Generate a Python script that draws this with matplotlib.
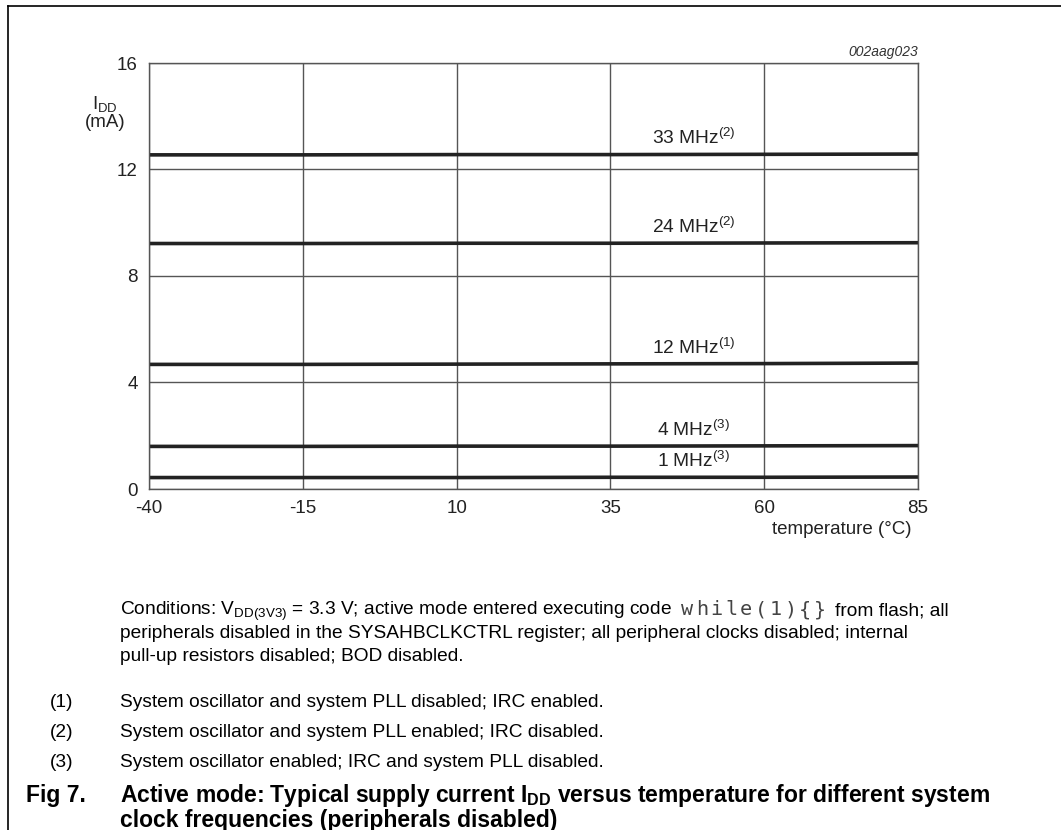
import matplotlib
matplotlib.use("Agg")
import matplotlib.pyplot as plt
from matplotlib.lines import Line2D

plt.rcParams['font.family'] = ['Liberation Sans', 'DejaVu Sans']
plt.rcParams['mathtext.fontset'] = 'custom'
plt.rcParams['mathtext.rm'] = 'Liberation Sans'
plt.rcParams['mathtext.it'] = 'Liberation Sans:italic'
plt.rcParams['mathtext.bf'] = 'Liberation Sans:bold'

# data
temperature = [-40, -15, 10, 35, 60, 85]
idd_33mhz = [12.55, 12.55, 12.56, 12.56, 12.57, 12.58]
idd_24mhz = [9.22, 9.22, 9.23, 9.23, 9.24, 9.25]
idd_12mhz = [4.68, 4.68, 4.69, 4.70, 4.71, 4.73]
idd_4mhz = [1.60, 1.60, 1.61, 1.61, 1.62, 1.63]
idd_1mhz = [0.43, 0.43, 0.43, 0.44, 0.44, 0.45]

series = [idd_33mhz, idd_24mhz, idd_12mhz, idd_4mhz, idd_1mhz]
labels = [r'33 MHz$^{(2)}$', r'24 MHz$^{(2)}$', r'12 MHz$^{(1)}$',
          r'4 MHz$^{(3)}$', r'1 MHz$^{(3)}$']
label_x = 48.5

x_ticks = [-40, -15, 10, 35, 60, 85]
y_ticks = [0, 4, 8, 12, 16]

notes = [
    'System oscillator and system PLL disabled; IRC enabled.',
    'System oscillator and system PLL enabled; IRC disabled.',
    'System oscillator enabled; IRC and system PLL disabled.',
]

W, H = 1061, 830
fig = plt.figure(figsize=(W / 100, H / 100), dpi=100)


def fy(y):
    return 1 - y / H


def fx(x):
    return x / W


AX_FS = 13.5
BODY_FS = 13.75
CAP_FS = 16.5
ink = '#222222'

ax = fig.add_axes([fx(149), fy(489), fx(918) - fx(149), fy(63) - fy(489)])
ax.set_xlim(-40, 85)
ax.set_ylim(0, 16)
ax.set_xticks(x_ticks)
ax.set_yticks(y_ticks)
ax.set_xticklabels([str(t) for t in x_ticks])
ax.set_yticklabels([str(t) for t in y_ticks])
ax.tick_params(length=0, labelsize=AX_FS, colors=ink)
ax.tick_params(axis='y', pad=8)
ax.tick_params(axis='x', pad=8)
ax.grid(True, color='#555555', linewidth=1.0)
for s in ax.spines.values():
    s.set_color('#555555')
    s.set_linewidth(1.0)

for vals, lab in zip(series, labels):
    ax.plot(temperature, vals, color=ink, linewidth=2.6, solid_capstyle='butt')
    ax.annotate(lab, xy=(label_x, vals[4]), xytext=(0, 10),
                textcoords='offset pixels', ha='center', va='baseline',
                fontsize=BODY_FS, color=ink)

# axis labels
fig.text(fx(918), fy(56), '002aag023', ha='right', va='baseline',
         fontsize=10, style='italic', color='#333333')
fig.text(fx(105), fy(109), r'$\mathrm{I_{DD}}$', ha='center', va='baseline',
         fontsize=AX_FS, color=ink)
fig.text(fx(105), fy(127), '(mA)', ha='center', va='baseline',
         fontsize=AX_FS, color=ink)
fig.text(fx(912), fy(534), 'temperature (°C)', ha='right', va='baseline',
         fontsize=AX_FS, color=ink)

# conditions text, first line in three pieces (code snippet is monospace)
t1 = fig.text(fx(120), fy(615),
              r'Conditions: $\mathrm{V_{DD(3V3)}}$ = 3.3 V; active mode entered executing code',
              ha='left', va='baseline', fontsize=BODY_FS, color='black')
renderer = fig.canvas.get_renderer()
x_end = t1.get_window_extent(renderer).x1
code = 'while(1){}'
char_w = 14.7
x0 = x_end + 8
for i, ch in enumerate(code):
    fig.text((x0 + char_w * (i + 0.5)) / W, fy(615), ch, ha='center', va='baseline',
             fontsize=14.5, family='DejaVu Sans Mono', color='#444444')
fig.text((x0 + char_w * len(code) + 8) / W, fy(615), 'from flash; all',
         ha='left', va='baseline', fontsize=BODY_FS, color='black')

fig.text(fx(120), fy(638),
         'peripherals disabled in the SYSAHBCLKCTRL register; all peripheral clocks disabled; internal',
         ha='left', va='baseline', fontsize=BODY_FS, color='black')
fig.text(fx(120), fy(661), 'pull-up resistors disabled; BOD disabled.',
         ha='left', va='baseline', fontsize=BODY_FS, color='black')

for i, note in enumerate(notes):
    y = 707 + 30 * i
    fig.text(fx(50), fy(y), f'({i + 1})', ha='left', va='baseline',
             fontsize=BODY_FS, color='black')
    fig.text(fx(120), fy(y), note, ha='left', va='baseline',
             fontsize=BODY_FS, color='black')

# caption
fig.text(fx(26), fy(802), 'Fig 7.', ha='left', va='baseline',
         fontsize=CAP_FS, fontweight='bold')
fig.text(fx(120), fy(802),
         r'Active mode: Typical supply current $\mathbf{I_{DD}}$ versus temperature for different system',
         ha='left', va='baseline', fontsize=CAP_FS, fontweight='bold')
fig.text(fx(120), fy(827), 'clock frequencies (peripherals disabled)',
         ha='left', va='baseline', fontsize=CAP_FS, fontweight='bold')

# page frame
fig.add_artist(Line2D([fx(8), 1], [fy(6), fy(6)], color='black', linewidth=1.2))
fig.add_artist(Line2D([fx(8), fx(8)], [fy(6), 0], color='black', linewidth=1.2))

fig.savefig('out.png', dpi=100)
